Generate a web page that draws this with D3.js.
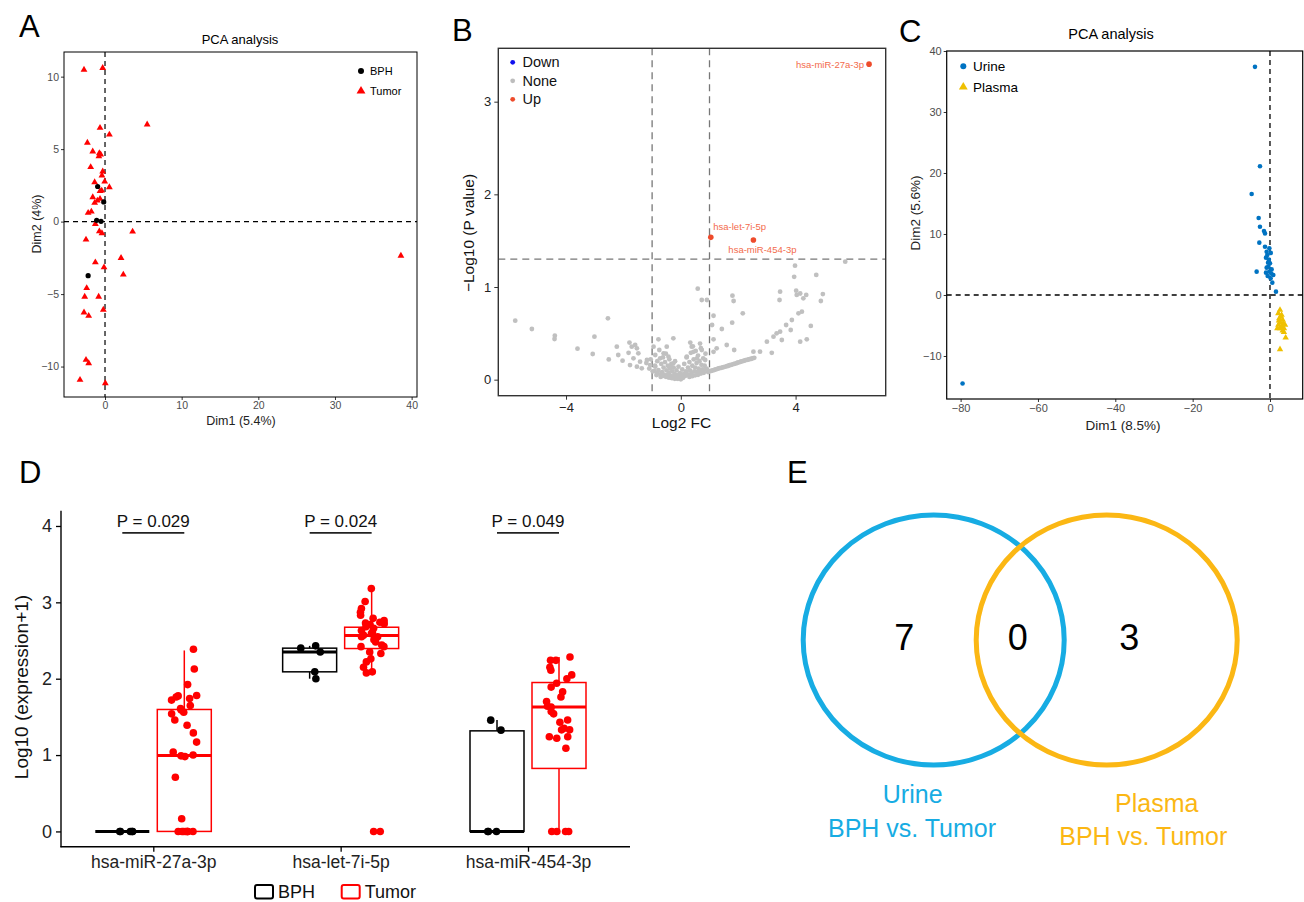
<!DOCTYPE html>
<html><head><meta charset="utf-8">
<script src="https://cdn.jsdelivr.net/npm/d3@7"></script>
<style>
body{margin:0;background:#fff;}
svg{display:block;font-family:"Liberation Sans",Arial,Helvetica,sans-serif;}
</style></head>
<body><svg id="c" width="1304" height="902"></svg>
<script>
// ---------------- DATA ----------------
// Panel A: PCA (BPH vs Tumor)
const pcaA_BPH = [[-0.96,2.42],[-0.17,1.36],[-1.09,0.09],[-0.52,0.02],[-2.2,-3.73]];
const pcaA_Tumor = [[-2.74,10.48],[-0.3,10.6],[5.5,6.7],[-0.65,6.47],[0.57,6.0],[-2.3,5.44],[-1.6,4.84],[-0.74,4.72],[-0.57,4.63],[-0.8,4.5],
 [-1.87,3.76],[-0.3,3.46],[-0.4,3.18],[-1.35,2.72],[-0.04,2.76],[0.57,2.37],[-0.43,2.14],[-0.65,2.1],[-1.6,1.68],[-0.65,1.57],
 [-1.0,1.45],[-1.35,1.29],[-1.78,0.69],[-2.2,0.6],[-1.26,-0.16],[-0.74,-0.67],[-0.4,-0.8],[3.6,-0.69],[-2.48,-1.24],[-1.26,-2.81],
 [-0.13,-3.16],[2.09,-2.51],[2.39,-3.66],[38.6,-2.35],[-2.39,-4.59],[-2.65,-5.18],[-0.83,-5.18],[-0.22,-6.08],[-2.74,-6.27],[-2.13,-6.5],
 [-2.48,-9.54],[-2.13,-9.77],[-3.26,-10.92],[0.04,-11.15]];
const ticksA_x = [0,10,20,30,40];
const ticksA_y = [-10,-5,0,5,10];

// Panel B: volcano
const volcUp = [{name:"hsa-miR-27a-3p",x:6.56,y:3.405},{name:"hsa-let-7i-5p",x:1.045,y:1.536},{name:"hsa-miR-454-3p",x:2.53,y:1.507}];
const volcNone = [
 [-5.77,0.637],[-5.19,0.547],[-4.39,0.475],[-4.40,0.439],[-3.6,0.335],[-3.01,0.464],[-3.07,0.277],[-2.54,0.662],[-2.51,0.219],[-2.23,0.356],
 [-2.18,0.266],[-2.03,0.205],[-1.79,0.4],[-1.82,0.29],[-1.71,0.356],[-1.59,0.374],[-1.53,0.338],[-1.48,0.284],[-1.65,0.23],[-1.42,0.194],
 [-1.77,0.158],[-1.53,0.14],[-1.36,0.122],[-1.18,0.212],[-1.07,0.158],[-0.95,0.356],[-0.78,0.435],[-0.89,0.266],[-0.72,0.23],[-0.6,0.284],
 [-0.49,0.356],[-0.43,0.248],[-0.26,0.446],[-0.89,0.14],[-0.78,0.104],[-0.66,0.068],[-0.49,0.05],[-0.31,0.032],[-0.14,0.014],[0,0.004],
 [-0.26,0.176],[-0.37,0.14],[-1.2,0.18],[-1.1,0.12],[-1.05,0.22],[-0.98,0.09],[-0.9,0.15],[-0.85,0.05],[-0.82,0.2],[-0.75,0.32],
 [-0.7,0.03],[-0.68,0.17],[-0.65,0.08],[-0.62,0.24],[-0.6,0.13],[-0.57,0.05],[-0.55,0.19],[-0.52,0.28],[-0.5,0.1],[-0.47,0.03],
 [-0.45,0.15],[-0.42,0.07],[-0.4,0.22],[-0.38,0.12],[-0.35,0.04],[-0.33,0.17],[-0.3,0.09],[-0.28,0.02],[-0.25,0.13],[-0.22,0.06],
 [-0.2,0.2],[-0.18,0.03],[-0.15,0.1],[-0.12,0.05],[-0.1,0.01],[-0.08,0.14],[-0.05,0.03],[-0.03,0.07],[0.03,0.04],[0.05,0.11],
 [0.08,0.02],[0.1,0.06],[0.12,0.17],[0.15,0.04],[0.18,0.09],[0.2,0.24],[0.22,0.06],[0.25,0.13],[0.28,0.05],[0.3,0.19],
 [0.32,0.1],[0.35,0.29],[0.37,0.07],[0.4,0.15],[0.42,0.36],[0.45,0.22],[0.47,0.09],[0.5,0.13],[0.52,0.31],[0.55,0.18],
 [0.57,0.08],[0.6,0.26],[0.62,0.12],[0.65,0.2],[0.68,0.09],[0.7,0.34],[0.72,0.16],[0.75,0.11],[0.78,0.23],[0.8,0.1],
 [0.83,0.15],[0.86,0.28],[0.9,0.12],[0.21,0.248],[0.33,0.4],[0.38,0.356],[0.44,0.30],[0.56,0.23],[0.59,0.982],[0.73,0.86],
 [0.91,0.86],[0.67,0.39],[0.73,0.32],[0.85,0.212],[1.14,0.69],[1.09,0.59],[1.14,0.435],[1.14,0.30],[1.25,0.338],[1.43,0.547],
 [1.6,0.374],[1.8,0.906],[1.84,0.849],[1.79,0.615],[1.86,0.32],[2.16,0.716],[2.53,0.302],[2.76,0.302],[3.0,0.41],[3.17,0.29],
 [3.23,0.464],[3.34,0.5],[3.46,0.518],[3.52,0.428],[3.46,0.95],[3.44,0.86],[3.67,0.59],[3.83,0.536],[3.87,0.644],[3.98,1.23],
 [3.95,1.11],[4.02,0.96],[4.04,0.914],[4.16,0.93],[4.27,0.878],[4.37,0.914],[4.1,0.716],[4.22,0.734],[4.16,0.41],[4.39,0.435],
 [4.53,0.58],[4.72,1.13],[4.95,0.924],[4.88,0.849],[5.73,1.273],
 [0.3,0.03],[0.4,0.038],[0.5,0.047],[0.6,0.052],[0.7,0.066],[0.8,0.074],[0.95,0.083],[1.0,0.091],[1.06,0.094],[1.1,0.1],
 [1.16,0.103],[1.2,0.11],[1.26,0.114],[1.31,0.121],[1.35,0.124],[1.41,0.128],[1.46,0.133],[1.5,0.136],[1.56,0.141],[1.61,0.146],
 [1.66,0.15],[1.7,0.156],[1.75,0.159],[1.81,0.166],[1.86,0.171],[1.9,0.174],[1.96,0.18],[2.0,0.186],[2.06,0.19],[2.1,0.196],
 [2.16,0.2],[2.21,0.205],[2.25,0.21],[2.31,0.213],[2.36,0.218],[2.4,0.221],[2.46,0.226],[2.5,0.23],[2.56,0.236],
 [-0.92,0.092],[-0.81,0.071],[-0.71,0.052],[-0.61,0.041],[-0.52,0.031],[-0.41,0.022],[-0.31,0.016],[-0.21,0.01]
];
const volcLegend = ["Down","None","Up"];
const ticksB_x = [-4,0,4];
const ticksB_y = [0,1,2,3];

// Panel C: PCA (Urine vs Plasma)
const pcaC_Urine = [[-3.88,37.4],[-2.59,21.1],[-4.74,16.56],[-2.93,12.62],[-2.59,11.2],[-1.55,10.5],[-1.29,10.1],[-2.76,8.58],[-1.29,7.92],[-0.17,7.65],
 [-0.86,7.1],[-0.69,6.56],[-1.03,6.12],[0,5.19],[-0.43,4.64],[-0.86,4.48],[0.43,4.2],[-0.17,3.83],[-3.45,3.83],[-1.03,3.66],
 [-0.6,3.11],[0.86,3.28],[0.17,2.73],[0.6,2.02],[1.55,0.55],[-79.5,-14.5],[-0.3,5.8],[0.2,6.9],[-0.5,5.3],[0.35,3.5]];
const pcaC_Plasma = [[2.59,-2.46],[2.16,-3.0],[3.0,-3.28],[2.4,-3.83],[3.28,-4.1],[2.59,-4.5],[3.45,-4.64],[2.16,-4.9],[3.0,-5.1],[3.6,-5.46],
 [2.59,-5.46],[3.28,-5.85],[3.6,-6.1],[4.05,-7.0],[2.59,-8.9],[1.9,-5.46],[3.9,-4.9],[2.84,-3.55],[2.33,-4.2]];
const ticksC_x = [-80,-60,-40,-20,0];
const ticksC_y = [-10,0,10,20,30,40];

// Panel D: boxplots
const mirnas = ["hsa-miR-27a-3p","hsa-let-7i-5p","hsa-miR-454-3p"];
const groupsD = ["BPH","Tumor"];
const expr27a_BPH = [0,0,0,0,0];
const expr27a_Tumor = [2.385,2.128,1.923,1.76,1.78,1.775,1.74,1.72,1.65,1.59,1.56,1.54,1.61,1.46,1.39,1.29,1.17,1.04,1.0,0.98,0.99,0.71,0.166,0,0,0,0,0,0,0,0];
const expr7i_BPH = [2.43,2.40,2.35,2.09,2.0];
const expr7i_Tumor = [3.18,3.01,2.92,2.87,2.83,2.79,2.76,2.74,2.72,2.71,2.73,2.66,2.63,2.61,2.68,2.59,2.57,2.55,2.55,2.51,2.48,2.44,2.42,2.42,2.35,2.33,2.26,2.22,2.15,2.09,2.076,0,0];
const expr454_BPH = [1.457,1.326,0,0,0];
const expr454_Tumor = [2.285,2.24,2.24,2.11,2.15,2.05,2.0,1.94,1.89,1.83,1.76,1.70,1.63,1.64,1.57,1.54,1.46,1.43,1.35,1.33,1.33,1.24,1.24,1.22,1.09,0,0,0,0];
// box stats in order 27a BPH, 27a Tumor, 7i BPH, 7i Tumor, 454 BPH, 454 Tumor
const boxQ1  = [0, 0,     2.09, 2.395, 0,     0.825];
const boxMed = [0, 0.995, 2.35, 2.565, 0,     1.63];
const boxQ3  = [0, 1.597, 2.40, 2.674, 1.317, 1.95];
const boxLo  = [0, 0,     2.0,  2.076, 0,     0];
const boxHi  = [0, 2.37,  2.43, 3.18,  1.46,  2.285];
const pLabels = ["P = 0.029","P = 0.024","P = 0.049"];
const pBarY = 3.91;
const ticksD_y = [0,1,2,3,4];

// Panel E: Venn
const vennSets = ["Urine","Plasma"];
const vennCounts = [7,0,3];
const vennSub = "BPH vs. Tumor";

// ---------------- DRAW ----------------
const svg = d3.select("#c");
const FONT = '"Liberation Sans",Arial,Helvetica,sans-serif';
const fmt = d => d<0 ? "\u2212"+(-d) : String(d);
// deterministic jitter in [-0.5,0.5]
const jit = (j,i) => { const s=Math.sin(j*12.9898+i*78.233+1.7)*43758.5453; return (s-Math.floor(s))-0.5; };

function panelLabel(t,x,y){
  svg.append("text").attr("x",x).attr("y",y).attr("font-size",31).attr("fill","#000").text(t);
}
function styleAxis(g, fs, col, lineCol){
  g.select(".domain").remove();
  g.selectAll(".tick line").attr("stroke",lineCol||"#333");
  g.selectAll(".tick text").attr("font-size",fs).attr("fill",col||"#4d4d4d").attr("font-family",FONT);
}

// ===== Panel A =====
(function(){
  const L=64,R=417,T=52,B=397;
  const x=d3.scaleLinear().domain([-5.35,40.7]).range([L,R]);
  const y=d3.scaleLinear().domain([-12.1,11.7]).range([B,T]);
  const g=svg.append("g");
  styleAxis(g.append("g").attr("transform",`translate(0,${B})`).call(d3.axisBottom(x).tickValues(ticksA_x).tickFormat(fmt).tickSize(3).tickPadding(2)),10.5);
  styleAxis(g.append("g").attr("transform",`translate(${L},0)`).call(d3.axisLeft(y).tickValues(ticksA_y).tickFormat(fmt).tickSize(3).tickPadding(2)),10.5);
  g.append("line").attr("x1",x(0)).attr("x2",x(0)).attr("y1",T).attr("y2",B).attr("stroke","#000").attr("stroke-width",1.2).attr("stroke-dasharray","5,4");
  g.append("line").attr("x1",L).attr("x2",R).attr("y1",y(0)).attr("y2",y(0)).attr("stroke","#000").attr("stroke-width",1.2).attr("stroke-dasharray","5,4");
  const tri=d3.symbol(d3.symbolTriangle).size(20);
  g.selectAll(".ta").data(pcaA_Tumor).join("path").attr("d",tri).attr("transform",d=>`translate(${x(d[0])},${y(d[1])})`).attr("fill","#ff0000");
  g.selectAll(".ba").data(pcaA_BPH).join("circle").attr("cx",d=>x(d[0])).attr("cy",d=>y(d[1])).attr("r",2.6).attr("fill","#000");
  g.append("rect").attr("x",L).attr("y",T).attr("width",R-L).attr("height",B-T).attr("fill","none").attr("stroke","#000").attr("stroke-width",1);
  g.append("circle").attr("cx",361).attr("cy",71).attr("r",3).attr("fill","#000");
  g.append("text").attr("x",370).attr("y",75).attr("font-size",11).text("BPH");
  g.append("path").attr("d",d3.symbol(d3.symbolTriangle).size(34)).attr("transform","translate(361,91)").attr("fill","#ff0000");
  g.append("text").attr("x",370).attr("y",95).attr("font-size",11).text("Tumor");
  g.append("text").attr("x",240).attr("y",44).attr("text-anchor","middle").attr("font-size",13).text("PCA analysis");
  g.append("text").attr("x",241).attr("y",425).attr("text-anchor","middle").attr("font-size",12.5).attr("fill","#222").text("Dim1 (5.4%)");
  g.append("text").attr("transform","translate(41,224) rotate(-90)").attr("text-anchor","middle").attr("font-size",12.5).attr("fill","#222").text("Dim2 (4%)");
  panelLabel("A",19,37);
})();

// ===== Panel B =====
(function(){
  const L=498.3,R=885.7,T=48.3,B=395.7;
  const x=d3.scaleLinear().domain([-6.36,7.14]).range([L,R]);
  const y=d3.scaleLinear().domain([-0.173,3.576]).range([B,T]);
  const g=svg.append("g");
  styleAxis(g.append("g").attr("transform",`translate(0,${B})`).call(d3.axisBottom(x).tickValues(ticksB_x).tickFormat(fmt).tickSize(4).tickPadding(3)),13,"#222","#333");
  styleAxis(g.append("g").attr("transform",`translate(${L},0)`).call(d3.axisLeft(y).tickValues(ticksB_y).tickFormat(fmt).tickSize(4).tickPadding(3)),13,"#222","#333");
  const dash={stroke:"#777","stroke-width":1.3,"stroke-dasharray":"7,5"};
  [-1,1].forEach(v=>{const l=g.append("line").attr("x1",x(v)).attr("x2",x(v)).attr("y1",T).attr("y2",B);Object.entries(dash).forEach(([k,vv])=>l.attr(k,vv));});
  {const l=g.append("line").attr("x1",L).attr("x2",R).attr("y1",y(-Math.log10(0.05))).attr("y2",y(-Math.log10(0.05)));Object.entries(dash).forEach(([k,vv])=>l.attr(k,vv));}
  g.selectAll(".nn").data(volcNone).join("circle").attr("cx",d=>x(d[0])).attr("cy",d=>y(d[1])).attr("r",2.4).attr("fill","#c0c0c0");
  g.selectAll(".up").data(volcUp).join("circle").attr("cx",d=>x(d.x)).attr("cy",d=>y(d.y)).attr("r",2.8).attr("fill","#ee4b2b");
  const labCol="#f36b4c";
  g.append("text").attr("x",x(volcUp[0].x)-5).attr("y",y(volcUp[0].y)+3.5).attr("text-anchor","end").attr("font-size",9.5).attr("fill",labCol).text(volcUp[0].name);
  g.append("text").attr("x",x(volcUp[1].x)+2.5).attr("y",y(volcUp[1].y)-7).attr("font-size",9.5).attr("fill",labCol).text(volcUp[1].name);
  g.append("text").attr("x",x(volcUp[2].x)+9).attr("y",y(volcUp[2].y)+12.5).attr("text-anchor","middle").attr("font-size",9.5).attr("fill",labCol).text(volcUp[2].name);
  g.append("rect").attr("x",L).attr("y",T).attr("width",R-L).attr("height",B-T).attr("fill","none").attr("stroke","#333").attr("stroke-width",1.4);
  const lc={"Down":"#1010ee","None":"#bdbdbd","Up":"#ee4b2b"};
  volcLegend.forEach((k,i)=>{
    const yy=62.3+i*18.5;
    g.append("circle").attr("cx",512.7).attr("cy",yy).attr("r",2.4).attr("fill",lc[k]);
    g.append("text").attr("x",522.5).attr("y",yy+5).attr("font-size",14.5).attr("fill","#111").text(k);
  });
  g.append("text").attr("x",681.5).attr("y",428).attr("text-anchor","middle").attr("font-size",15.5).attr("fill","#111").text("Log2 FC");
  g.append("text").attr("transform","translate(474,233) rotate(-90)").attr("text-anchor","middle").attr("font-size",15.5).attr("fill","#111").text("\u2212Log10 (P value)");
  panelLabel("B",452,41);
})();

// ===== Panel C =====
(function(){
  const L=946.7,R=1302.7,T=51,B=399;
  const x=d3.scaleLinear().domain([-83.6,8.46]).range([L,R]);
  const y=d3.scaleLinear().domain([-17.05,40]).range([B,T]);
  const g=svg.append("g");
  styleAxis(g.append("g").attr("transform",`translate(0,${B})`).call(d3.axisBottom(x).tickValues(ticksC_x).tickFormat(fmt).tickSize(3).tickPadding(2)),11);
  styleAxis(g.append("g").attr("transform",`translate(${L},0)`).call(d3.axisLeft(y).tickValues(ticksC_y).tickFormat(fmt).tickSize(3).tickPadding(2)),11);
  g.append("line").attr("x1",x(0)).attr("x2",x(0)).attr("y1",T).attr("y2",B).attr("stroke","#000").attr("stroke-width",1.3).attr("stroke-dasharray","5,4");
  g.append("line").attr("x1",L).attr("x2",R).attr("y1",y(0)).attr("y2",y(0)).attr("stroke","#000").attr("stroke-width",1.3).attr("stroke-dasharray","5,4");
  g.selectAll(".u").data(pcaC_Urine).join("circle").attr("cx",d=>x(d[0])).attr("cy",d=>y(d[1])).attr("r",2.3).attr("fill","#0073c2");
  const tri=d3.symbol(d3.symbolTriangle).size(18);
  g.selectAll(".p").data(pcaC_Plasma).join("path").attr("d",tri).attr("transform",d=>`translate(${x(d[0])},${y(d[1])})`).attr("fill","#efc000");
  g.append("rect").attr("x",L).attr("y",T).attr("width",R-L).attr("height",B-T).attr("fill","none").attr("stroke","#000").attr("stroke-width",1.2);
  g.append("circle").attr("cx",963.3).attr("cy",66.3).attr("r",3).attr("fill","#0073c2");
  g.append("text").attr("x",973).attr("y",71).attr("font-size",13.5).text("Urine");
  g.append("path").attr("d",d3.symbol(d3.symbolTriangle).size(34)).attr("transform","translate(963.3,87)").attr("fill","#efc000");
  g.append("text").attr("x",973).attr("y",92).attr("font-size",13.5).text("Plasma");
  g.append("text").attr("x",1111).attr("y",39).attr("text-anchor","middle").attr("font-size",14.5).text("PCA analysis");
  g.append("text").attr("x",1123).attr("y",430).attr("text-anchor","middle").attr("font-size",13.5).attr("fill","#222").text("Dim1 (8.5%)");
  g.append("text").attr("transform","translate(920,213) rotate(-90)").attr("text-anchor","middle").attr("font-size",13.5).attr("fill","#222").text("Dim2 (5.6%)");
  panelLabel("C",899,42);
})();

// ===== Panel D =====
(function(){
  const L=61,T=510.7,B=846.7,R=630;
  const x=d3.scalePoint().domain(mirnas).range([153.3,528]);
  const y=d3.scaleLinear().domain([-0.2,4.2]).range([B,T]);
  const dodge=d3.scaleBand().domain(groupsD).range([-62,62]).paddingInner(0.0);
  const g=svg.append("g");
  const ay=g.append("g").attr("transform",`translate(${L},0)`).call(d3.axisLeft(y).tickValues(ticksD_y).tickFormat(fmt).tickSize(5).tickPadding(4));
  ay.select(".domain").remove(); ay.selectAll(".tick line").attr("stroke","#000").attr("stroke-width",1.3);
  ay.selectAll(".tick text").attr("font-size",18).attr("fill","#222").attr("font-family",FONT);
  const ax=g.append("g").attr("transform",`translate(0,${B})`).call(d3.axisBottom(x).tickSize(5).tickPadding(4));
  ax.select(".domain").remove(); ax.selectAll(".tick line").attr("stroke","#000").attr("stroke-width",1.3);
  ax.selectAll(".tick text").attr("font-size",17.5).attr("fill","#222").attr("font-family",FONT);
  g.append("line").attr("x1",L).attr("x2",L).attr("y1",T).attr("y2",B+0.6).attr("stroke","#000").attr("stroke-width",1.4);
  g.append("line").attr("x1",L-0.6).attr("x2",R).attr("y1",B).attr("y2",B).attr("stroke","#000").attr("stroke-width",1.4);
  const col={BPH:"#000",Tumor:"#ff0000"};
  const bw=54;
  const exprs=[expr27a_BPH,expr27a_Tumor,expr7i_BPH,expr7i_Tumor,expr454_BPH,expr454_Tumor];
  exprs.forEach((vals,i)=>{
    const m=mirnas[Math.floor(i/2)], grp=groupsD[i%2];
    const cx=x(m)+dodge(grp)+dodge.bandwidth()/2;
    const c=col[grp];
    const bg=g.append("g");
    bg.append("line").attr("x1",cx).attr("x2",cx).attr("y1",y(boxQ3[i])).attr("y2",y(boxHi[i])).attr("stroke",c).attr("stroke-width",1.5);
    bg.append("line").attr("x1",cx).attr("x2",cx).attr("y1",y(boxQ1[i])).attr("y2",y(boxLo[i])).attr("stroke",c).attr("stroke-width",1.5);
    bg.append("rect").attr("x",cx-bw/2).attr("y",y(boxQ3[i])).attr("width",bw).attr("height",Math.max(0,y(boxQ1[i])-y(boxQ3[i]))).attr("fill","none").attr("stroke",c).attr("stroke-width",1.5);
    bg.append("line").attr("x1",cx-bw/2).attr("x2",cx+bw/2).attr("y1",y(boxMed[i])).attr("y2",y(boxMed[i])).attr("stroke",c).attr("stroke-width",3);
    bg.selectAll("circle").data(vals).join("circle")
      .attr("cx",(d,j)=>cx+jit(j,i)*26)
      .attr("cy",d=>y(d)).attr("r",3.8).attr("fill",c);
  });
  mirnas.forEach((m,k)=>{
    const x1=x(m)+dodge("BPH")+dodge.bandwidth()/2, x2=x(m)+dodge("Tumor")+dodge.bandwidth()/2;
    g.append("line").attr("x1",x1).attr("x2",x2).attr("y1",y(pBarY)).attr("y2",y(pBarY)).attr("stroke","#222").attr("stroke-width",1.6);
    g.append("text").attr("x",(x1+x2)/2).attr("y",y(pBarY)-6).attr("text-anchor","middle").attr("font-size",17).attr("fill","#111").text(pLabels[k]);
  });
  g.append("text").attr("transform","translate(28,687) rotate(-90)").attr("text-anchor","middle").attr("font-size",19).attr("fill","#111").text("Log10 (expression+1)");
  const lx=[255,341.7];
  groupsD.forEach((k,i)=>{
    g.append("rect").attr("x",lx[i]).attr("y",885).attr("width",18).attr("height",13.5).attr("rx",2).attr("fill","none").attr("stroke",col[k]).attr("stroke-width",2);
    g.append("text").attr("x",lx[i]+23).attr("y",898).attr("font-size",18).attr("fill","#111").text(k);
  });
  panelLabel("D",19,483);
})();

// ===== Panel E =====
(function(){
  const g=svg.append("g");
  const vc=["#17ace3","#fbb714"];
  const centers=[933.7,1106.7];
  vennSets.forEach((s,i)=>{
    g.append("ellipse").attr("cx",centers[i]).attr("cy",640).attr("rx",130.5).attr("ry",125).attr("fill","none").attr("stroke",vc[i]).attr("stroke-width",5);
  });
  const nx=[904.3,1017.7,1129.3];
  vennCounts.forEach((n,i)=>{
    g.append("text").attr("x",nx[i]).attr("y",650).attr("text-anchor","middle").attr("font-size",36).attr("fill","#000").text(n);
  });
  g.append("text").attr("x",912.7).attr("y",803).attr("text-anchor","middle").attr("font-size",25).attr("fill",vc[0]).text(vennSets[0]);
  g.append("text").attr("x",912).attr("y",837).attr("text-anchor","middle").attr("font-size",25).attr("fill",vc[0]).text(vennSub);
  g.append("text").attr("x",1156.7).attr("y",811.5).attr("text-anchor","middle").attr("font-size",25).attr("fill",vc[1]).text(vennSets[1]);
  g.append("text").attr("x",1143.3).attr("y",845).attr("text-anchor","middle").attr("font-size",25).attr("fill",vc[1]).text(vennSub);
  panelLabel("E",787,483);
})();
</script></body></html>
